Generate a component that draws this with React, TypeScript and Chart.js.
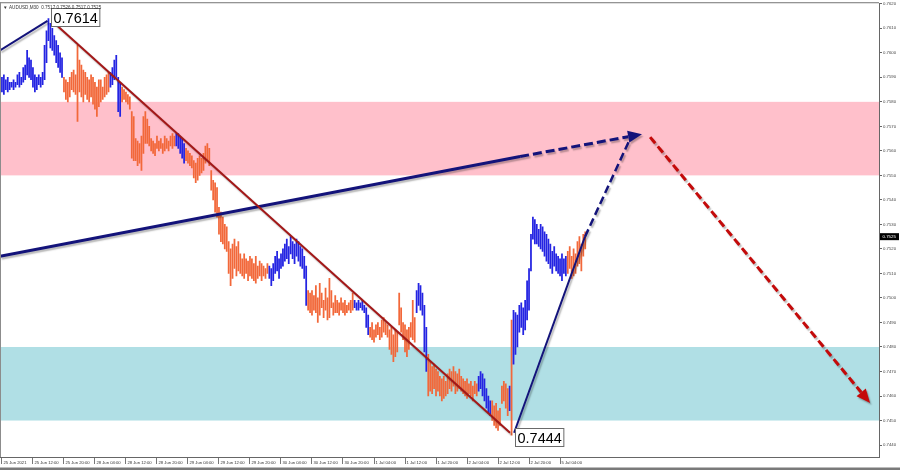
import React, { useEffect, useRef } from 'react';
import { Chart, registerables } from 'chart.js';

Chart.register(...registerables);

// ---------- data ----------
const symbolTitle = 'AUDUSD,M30  0.7517 0.7526 0.7517 0.7525';

const timeLabels = [
  '25 Jun 2021', '25 Jun 12:00', '25 Jun 20:00', '28 Jun 04:00', '28 Jun 12:00', '28 Jun 20:00',
  '29 Jun 04:00', '29 Jun 12:00', '29 Jun 20:00', '30 Jun 04:00', '30 Jun 12:00', '30 Jun 20:00',
  '1 Jul 04:00', '1 Jul 12:00', '1 Jul 20:00', '2 Jul 04:00', '2 Jul 12:00', '2 Jul 20:00', '5 Jul 04:00',
];
const timeTickIdx = [0, 16, 32, 48, 64, 80, 96, 112, 128, 144, 160, 176, 192, 208, 224, 240, 256, 272, 288];

const priceTicks = [
  0.744, 0.745, 0.746, 0.747, 0.748, 0.749, 0.75, 0.751, 0.752, 0.753,
  0.754, 0.755, 0.756, 0.757, 0.758, 0.759, 0.76, 0.761, 0.762,
];

const highs = [
  0.7590, 0.7591, 0.7589, 0.7590, 0.7588, 0.7588, 0.7589, 0.7588, 0.7591, 0.7592,
  0.7590, 0.7594, 0.7595, 0.7601, 0.7598, 0.7597, 0.7594, 0.7591, 0.7590, 0.7591,
  0.7590, 0.7592, 0.7603, 0.7609, 0.7614, 0.7612, 0.7610, 0.7607, 0.7605, 0.7603,
  0.7600, 0.7598, 0.7590, 0.7589, 0.7588, 0.7590, 0.7592, 0.7593, 0.7591, 0.7603,
  0.7597, 0.7595, 0.7593, 0.7592, 0.7590, 0.7589, 0.7591, 0.7590, 0.7588, 0.7586,
  0.7589, 0.7589, 0.7586, 0.7590, 0.7591, 0.7592, 0.7592, 0.7594, 0.7597, 0.7599,
  0.7590, 0.7588, 0.7586, 0.7585, 0.7584, 0.7583, 0.7582, 0.7576, 0.7574, 0.7565,
  0.7564, 0.7563, 0.7566, 0.7574, 0.7576, 0.7573, 0.7570, 0.7565, 0.7564, 0.7563,
  0.7566, 0.7564, 0.7565, 0.7563, 0.7566, 0.7565, 0.7564, 0.7566, 0.7567, 0.7566,
  0.7567, 0.7567, 0.7566, 0.7565, 0.7563, 0.7561, 0.7560, 0.7559, 0.7558, 0.7556,
  0.7555, 0.7557, 0.7558, 0.7557, 0.7559, 0.7562, 0.7563, 0.7561, 0.7552, 0.7548,
  0.7547, 0.7545, 0.7537, 0.7535, 0.7533, 0.7530, 0.7529, 0.7523, 0.7520, 0.7522,
  0.7524, 0.7521, 0.7523, 0.7518, 0.7516, 0.7518, 0.7516, 0.7515, 0.7517, 0.7516,
  0.7514, 0.7517, 0.7513, 0.7515, 0.7514, 0.7513, 0.7512, 0.7514, 0.7513, 0.7512,
  0.7514, 0.7517, 0.7519, 0.7516, 0.7518, 0.7520, 0.7522, 0.7524, 0.7521, 0.7525,
  0.7523, 0.7522, 0.7524, 0.7523, 0.7521, 0.7520, 0.7517, 0.7513, 0.7503, 0.7502,
  0.7503, 0.7501, 0.7505, 0.7500, 0.7506, 0.7502, 0.7499, 0.7504, 0.7500, 0.7508,
  0.7503, 0.7498, 0.7501, 0.7499, 0.7498, 0.7500, 0.7498, 0.7499, 0.7497, 0.7498,
  0.7499, 0.7502, 0.7499, 0.7498, 0.7499, 0.7498, 0.7499, 0.7497, 0.7496, 0.7493,
  0.7488, 0.7490, 0.7487, 0.7489, 0.7490, 0.7488, 0.7491, 0.7492, 0.7490, 0.7489,
  0.7487, 0.7488, 0.7485, 0.7487, 0.7486, 0.7502, 0.7496, 0.7490, 0.7489, 0.7487,
  0.7488, 0.7490, 0.7499, 0.7492, 0.7503, 0.7506, 0.7505, 0.7502, 0.7497, 0.7488,
  0.7477, 0.7474, 0.7472, 0.7473, 0.7471, 0.7470, 0.7468, 0.7467, 0.7468, 0.7466,
  0.7469, 0.7471, 0.7470, 0.7472, 0.7470, 0.7469, 0.7471, 0.7468, 0.7467, 0.7466,
  0.7467, 0.7465, 0.7466, 0.7464, 0.7466, 0.7465, 0.7468, 0.7470, 0.7469, 0.7467,
  0.7463, 0.7460, 0.7458, 0.7458, 0.7456, 0.7457, 0.7454, 0.7455, 0.7464, 0.7466,
  0.7465, 0.7463, 0.7464, 0.7491, 0.7495, 0.7494, 0.7493, 0.7497, 0.7498, 0.7496,
  0.7499, 0.7507, 0.7512, 0.7526, 0.7533, 0.7532, 0.7530, 0.7528, 0.7530, 0.7529,
  0.7527, 0.7526, 0.7524, 0.7522, 0.7519, 0.7521, 0.7518, 0.7517, 0.7516, 0.7518,
  0.7516, 0.7517, 0.7519, 0.7521, 0.7517, 0.7520, 0.7518, 0.7523, 0.7525, 0.7522,
  0.7526, 0.7527,
];

const lows = [
  0.7584, 0.7583, 0.7585, 0.7584, 0.7585, 0.7586, 0.7585, 0.7586, 0.7587, 0.7586,
  0.7587, 0.7588, 0.7589, 0.7591, 0.7590, 0.7589, 0.7586, 0.7584, 0.7585, 0.7587,
  0.7586, 0.7587, 0.7589, 0.7596, 0.7605, 0.7602, 0.7601, 0.7599, 0.7596, 0.7594,
  0.7592, 0.7590, 0.7584, 0.7581, 0.7580, 0.7582, 0.7585, 0.7584, 0.7583, 0.7572,
  0.7584, 0.7582, 0.7580, 0.7583, 0.7581, 0.7580, 0.7582, 0.7579, 0.7577, 0.7574,
  0.7578, 0.7580, 0.7581, 0.7582, 0.7583, 0.7584, 0.7586, 0.7587, 0.7589, 0.7590,
  0.7576, 0.7574, 0.7580, 0.7581, 0.7580, 0.7579, 0.7577, 0.7557, 0.7556, 0.7556,
  0.7554, 0.7555, 0.7552, 0.7559, 0.7563, 0.7563, 0.7562, 0.7560, 0.7559, 0.7558,
  0.7561, 0.7560, 0.7561, 0.7559, 0.7560, 0.7561, 0.7560, 0.7562, 0.7561, 0.7562,
  0.7562, 0.7561, 0.7559, 0.7557, 0.7555, 0.7556, 0.7555, 0.7554, 0.7553, 0.7549,
  0.7547, 0.7548, 0.7550, 0.7551, 0.7552, 0.7555, 0.7556, 0.7554, 0.7544, 0.7540,
  0.7535, 0.7533, 0.7526, 0.7523, 0.7522, 0.7520, 0.7519, 0.7510, 0.7505, 0.7508,
  0.7512, 0.7509, 0.7511, 0.7510, 0.7509, 0.7508, 0.7510, 0.7507, 0.7509, 0.7508,
  0.7507, 0.7506, 0.7508, 0.7509, 0.7507, 0.7509, 0.7508, 0.7510, 0.7508, 0.7505,
  0.7507, 0.7510, 0.7511, 0.7508, 0.7512, 0.7513, 0.7515, 0.7516, 0.7514, 0.7518,
  0.7516, 0.7514, 0.7517, 0.7515, 0.7513, 0.7512, 0.7508, 0.7497, 0.7495, 0.7494,
  0.7493, 0.7495, 0.7494, 0.7490, 0.7493, 0.7496, 0.7492, 0.7495, 0.7491, 0.7492,
  0.7496, 0.7493, 0.7494, 0.7494, 0.7493, 0.7495, 0.7494, 0.7493, 0.7494, 0.7495,
  0.7494, 0.7495, 0.7496, 0.7495, 0.7495, 0.7496, 0.7495, 0.7494, 0.7488, 0.7485,
  0.7484, 0.7483, 0.7482, 0.7484, 0.7485, 0.7483, 0.7484, 0.7486, 0.7485, 0.7484,
  0.7479, 0.7477, 0.7474, 0.7476, 0.7478, 0.7489, 0.7486, 0.7483, 0.7478, 0.7476,
  0.7479, 0.7484, 0.7483, 0.7482, 0.7494, 0.7497, 0.7495, 0.7493, 0.7478, 0.7470,
  0.7460, 0.7462, 0.7461, 0.7463, 0.7460, 0.7462, 0.7460, 0.7458, 0.7459, 0.7460,
  0.7461, 0.7463, 0.7462, 0.7464, 0.7461, 0.7462, 0.7463, 0.7462, 0.7461, 0.7460,
  0.7459, 0.7461, 0.7460, 0.7458, 0.7461, 0.7460, 0.7462, 0.7463, 0.7460, 0.7458,
  0.7455, 0.7453, 0.7452, 0.7450, 0.7448, 0.7447, 0.7446, 0.7448, 0.7457, 0.7458,
  0.7455, 0.7452, 0.7454, 0.7444, 0.7473, 0.7477, 0.7480, 0.7486, 0.7488, 0.7485,
  0.7487, 0.7491, 0.7495, 0.7511, 0.7524, 0.7522, 0.7522, 0.7521, 0.7520, 0.7519,
  0.7517, 0.7515, 0.7514, 0.7512, 0.7510, 0.7513, 0.7511, 0.7510, 0.7509, 0.7507,
  0.7510, 0.7509, 0.7510, 0.7512, 0.7508, 0.7509, 0.7510, 0.7513, 0.7514, 0.7511,
  0.7517, 0.7520,
];

// bar index ranges drawn in the "up" colour
const blueRanges = [[0, 31], [56, 61], [90, 94], [138, 157], [182, 189], [214, 219], [246, 252], [262, 262], [264, 291]];

const resistanceZone = [0.755, 0.758];
const supportZone = [0.745, 0.748];
const lastPrice = 0.7525;

const peakIdx = 24;
const peakPrice = 0.7614;
const troughIdx = 263;
const troughPrice = 0.7444;

// wave / trend lines (bar index, price)
const leadInIdx = [-1, 23.5];
const leadInPx = [0.7601, 0.7613];
const fallIdx = [25.8, 262.2];
const fallPx = [0.7613, 0.7445];
const trendIdx = [-1, 267.4, 330.3];
const trendPx = [0.7517, 0.75577, 0.75668];
const riseIdx = [264.3, 300.9, 323.6];
const risePx = [0.7445, 0.7525, 0.7564];
const forecastIdx = [334.5, 448];
const forecastPx = [0.75656, 0.74571];

// ---------- style ----------
const BLUE = '#2424e2';
const ORANGE = '#f2683a';
const NAVY = '#13137a';
const DARKRED = '#a31818';
const RED = '#c40a0a';
const FONT = '"Liberation Sans", Arial, sans-serif';

const isBlue = (i: number) => blueRanges.some(([a, b]) => i >= a && i <= b);

const overlayPlugin = {
  id: 'overlay',
  beforeDatasetsDraw(chart: any) {
    const { ctx, chartArea: a, scales } = chart;
    const y = scales.y;
    ctx.save();
    const band = (z: number[], c: string) => {
      const t = y.getPixelForValue(z[1]);
      const b = y.getPixelForValue(z[0]);
      ctx.fillStyle = c;
      ctx.fillRect(a.left, t, a.right - a.left, b - t);
    };
    band(resistanceZone, '#ffc0cb');
    band(supportZone, '#b0dfe5');
    ctx.restore();
  },
  afterDatasetsDraw(chart: any) {
    const { ctx, chartArea: a, scales } = chart;
    const x = scales.x;
    const y = scales.y;
    const P = (i: number, p: number) => [x.getPixelForValue(i), y.getPixelForValue(p)];

    ctx.save();
    ctx.beginPath();
    ctx.rect(a.left, a.top, a.right - a.left, a.bottom - a.top);
    ctx.clip();
    ctx.lineCap = 'butt';
    ctx.shadowColor = 'rgba(0,0,0,0.28)';
    ctx.shadowOffsetX = 1.5;
    ctx.shadowOffsetY = 2;
    ctx.shadowBlur = 1.5;

    const seg = (p0: number[], p1: number[], color: string, w: number, dash: number[] = []) => {
      ctx.beginPath();
      ctx.setLineDash(dash);
      ctx.strokeStyle = color;
      ctx.lineWidth = w;
      ctx.moveTo(p0[0], p0[1]);
      ctx.lineTo(p1[0], p1[1]);
      ctx.stroke();
      ctx.setLineDash([]);
    };
    const arrow = (from: number[], tip: number[], color: string, w: number, dash: number[], len: number, half: number) => {
      const ang = Math.atan2(tip[1] - from[1], tip[0] - from[0]);
      const base = [tip[0] - len * Math.cos(ang), tip[1] - len * Math.sin(ang)];
      seg(from, base, color, w, dash);
      ctx.beginPath();
      ctx.fillStyle = color;
      ctx.moveTo(tip[0], tip[1]);
      ctx.lineTo(base[0] + half * Math.sin(ang), base[1] - half * Math.cos(ang));
      ctx.lineTo(base[0] - half * Math.sin(ang), base[1] + half * Math.cos(ang));
      ctx.closePath();
      ctx.fill();
    };

    // lead-in wave
    seg(P(leadInIdx[0], leadInPx[0]), P(leadInIdx[1], leadInPx[1]), NAVY, 2);
    // long trend line + projection
    seg(P(trendIdx[0], trendPx[0]), P(trendIdx[1], trendPx[1]), NAVY, 3);
    arrow(P(trendIdx[1], trendPx[1]), P(trendIdx[2], trendPx[2]), NAVY, 3, [9, 4], 14, 6);
    // falling wave
    seg(P(fallIdx[0], fallPx[0]), P(fallIdx[1], fallPx[1]), DARKRED, 2);
    // rising wave + projection
    seg(P(riseIdx[0], risePx[0]), P(riseIdx[1], risePx[1]), NAVY, 2);
    seg(P(riseIdx[1], risePx[1]), P(riseIdx[2], risePx[2]), NAVY, 2.5, [8, 4]);
    // forecast
    arrow(P(forecastIdx[0], forecastPx[0]), P(forecastIdx[1], forecastPx[1]), RED, 3, [8, 4], 14, 6);

    ctx.shadowColor = 'transparent';

    const tag = (i: number, p: number, text: string, dx: number, dy: number) => {
      const [px, py] = P(i, p);
      ctx.font = `14.5px ${FONT}`;
      const w = ctx.measureText(text).width + 4;
      const h = 18;
      const l = Math.round(px + dx) + 0.5;
      const t = Math.round(py + dy) + 0.5;
      ctx.fillStyle = '#ffffff';
      ctx.fillRect(l, t, w, h);
      ctx.strokeStyle = '#6a6a6a';
      ctx.lineWidth = 1;
      ctx.strokeRect(l, t, w, h);
      ctx.fillStyle = '#000000';
      ctx.textBaseline = 'middle';
      ctx.textAlign = 'left';
      ctx.fillText(text, l + 2, t + h / 2 + 1);
    };
    tag(peakIdx, peakPrice, peakPrice.toFixed(4), 2.5, -10);
    tag(troughIdx, troughPrice, troughPrice.toFixed(4), 3.5, -7);
    ctx.restore();
  },
  afterDraw(chart: any) {
    const { ctx, chartArea: a, scales, width, height } = chart;
    const y = scales.y;
    ctx.save();
    // frame
    ctx.fillStyle = '#8c8c8c';
    ctx.fillRect(0, a.top - 1.5, a.right, 1.2);
    ctx.fillRect(0, a.top - 1.5, 1, a.bottom - a.top + 1.5);
    ctx.fillStyle = '#7a7a7a';
    ctx.fillRect(0, height - 2.5, width, 2.5);
    // title
    ctx.fillStyle = '#333';
    ctx.font = `4.6px ${FONT}`;
    ctx.textBaseline = 'middle';
    ctx.textAlign = 'left';
    ctx.fillText('▼', 3, a.top + 4);
    ctx.fillText(symbolTitle, 9, a.top + 4);
    // last price box
    const cy = y.getPixelForValue(lastPrice);
    ctx.fillStyle = '#000';
    ctx.fillRect(a.right + 1, cy - 3.5, 19, 7);
    ctx.fillStyle = '#fff';
    ctx.font = `4.4px ${FONT}`;
    ctx.fillText(lastPrice.toFixed(4), a.right + 3.5, cy + 0.3);
    ctx.restore();
  },
};

export default function App() {
  const ref = useRef<HTMLCanvasElement | null>(null);

  useEffect(() => {
    if (!ref.current) return;
    const colors = highs.map((_, i) => (isBlue(i) ? BLUE : ORANGE));
    const chart = new Chart(ref.current, {
      type: 'bar',
      data: {
        datasets: [
          {
            data: highs.map((h, i) => ({ x: i, y: [lows[i], h] })) as any,
            backgroundColor: colors,
            borderWidth: 0,
            barThickness: 1.1,
            grouped: false,
          } as any,
        ],
      },
      options: {
        responsive: false,
        animation: false,
        devicePixelRatio: 1,
        events: [],
        layout: { padding: { top: 2, left: 0, right: 0, bottom: 0 } },
        plugins: { legend: { display: false }, tooltip: { enabled: false } },
        scales: {
          x: {
            type: 'linear',
            min: -1,
            max: 452.6,
            offset: false,
            position: 'bottom',
            afterBuildTicks: (s: any) => {
              s.ticks = timeTickIdx.map((v) => ({ value: v }));
            },
            afterFit: (s: any) => {
              s.height = 13;
            },
            ticks: {
              autoSkip: false,
              maxRotation: 0,
              minRotation: 0,
              align: 'start',
              labelOffset: 1.5,
              padding: -4,
              color: '#333',
              font: { size: 4.2, family: FONT },
              callback: (_v: any, idx: number) => timeLabels[idx],
            },
            grid: { drawOnChartArea: false, drawTicks: true, tickLength: 7, color: '#777', offset: false },
            border: { display: true, color: '#666' },
          } as any,
          y: {
            type: 'linear',
            position: 'right',
            min: 0.743512,
            max: 0.762008,
            afterBuildTicks: (s: any) => {
              s.ticks = priceTicks.map((v) => ({ value: v }));
            },
            afterFit: (s: any) => {
              s.width = 21;
            },
            ticks: {
              padding: 1,
              color: '#444',
              font: { size: 4.3, family: FONT },
              callback: (v: any) => Number(v).toFixed(4),
            },
            grid: { drawOnChartArea: false, drawTicks: true, tickLength: 3, color: '#666' },
            border: { display: true, color: '#666' },
          } as any,
        },
      },
      plugins: [overlayPlugin],
    });
    return () => chart.destroy();
  }, []);

  return (
    <div style={{ position: 'fixed', left: 0, top: 0, width: 900, height: 470, background: '#fff' }}>
      <canvas ref={ref} width={900} height={470} style={{ display: 'block', width: 900, height: 470 }} />
    </div>
  );
}
